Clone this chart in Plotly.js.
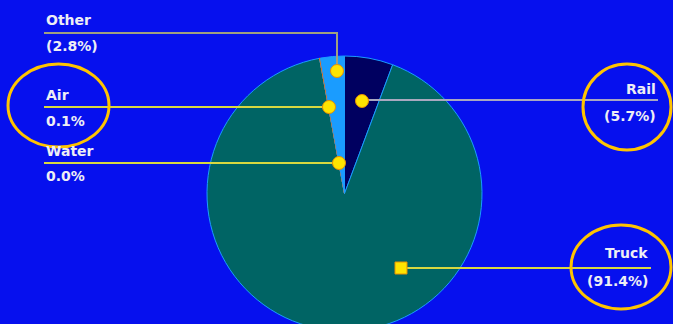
<!DOCTYPE html>
<html>
<head>
<meta charset="utf-8">
<script src="https://cdn.plot.ly/plotly-3.0.1.min.js"></script>
<style>
html,body{margin:0;padding:0;overflow:hidden;background:#0610EE;}
#chart{width:673px;height:338px;}
</style>
</head>
<body>
<div id="chart"></div>
<script>
// Data
const categories = ["Rail", "Truck", "Water", "Air", "Other"];
const shares = [5.7, 91.4, 0.0, 0.1, 2.8];
const labelTexts = ["Rail<br>(5.7%)", "Truck<br>(91.4%)", "Water<br>0.0%", "Air<br>0.1%", "Other<br>(2.8%)"];
const sliceColors = ["#000060", "#006464", "#00C0C0", "#FF6A00", "#1A9CFF"];
const edgeColors = ["#1A9CFF", "#1A9CFF", "#1A9CFF", "#FF6A00", "#1A9CFF"];

const W = 673, H = 338;
const bg = "#0610EE";

// callout layout (pixel positions, y measured from top)
const callouts = {
  Other: {dot: [337, 71], path: [[44, 33], [337, 33], [337, 71]], color: "#A0A080", line1: [44, 20], line2: [44, 46], anchor: "left"},
  Air:   {dot: [329, 107], path: [[44, 107], [329, 107]], color: "#D8D840", line1: [44, 95], line2: [44, 121], anchor: "left"},
  Water: {dot: [339, 163], path: [[44, 163], [339, 163]], color: "#D8D840", line1: [44, 151], line2: [44, 176], anchor: "left"},
  Rail:  {dot: [362, 101], path: [[362, 100], [658, 100]], color: "#A8A8C0", line1: [658, 89], line2: [658, 116], anchor: "right"},
  Truck: {dot: [401, 268], path: [[401, 268], [651, 268]], color: "#D8D840", line1: [650, 253], line2: [650, 281], anchor: "right", square: true}
};

const traces = [];
// pie
const cx = 344.5, cy = 193.5, r = 137.5;
traces.push({
  type: "pie",
  labels: categories,
  values: shares,
  sort: false,
  direction: "clockwise",
  rotation: 0,
  textinfo: "none",
  hoverinfo: "label+percent",
  marker: {colors: sliceColors, line: {color: edgeColors, width: 1}},
  domain: {x: [(cx - r) / W, (cx + r) / W], y: [(H - cy - r) / H, (H - cy + r) / H]},
  showlegend: false
});
// invisible cartesian trace to establish pixel-like axes
traces.push({type: "scatter", mode: "markers", x: [0, W], y: [0, H], marker: {opacity: 0}, hoverinfo: "skip", showlegend: false});

const annotations = [];
const shapes = [];
categories.forEach((c, i) => {
  const co = callouts[c];
  shapes.push({
    type: "path", xref: "x", yref: "y", layer: "above",
    path: co.path.map((p, k) => (k ? "L" : "M") + p[0] + "," + p[1]).join(" "),
    line: {color: co.color, width: 2}
  });
  const rad = co.square ? 6 : 6.5;
  shapes.push({
    type: co.square ? "rect" : "circle", xref: "x", yref: "y", layer: "above",
    x0: co.dot[0] - rad, x1: co.dot[0] + rad, y0: co.dot[1] - rad, y1: co.dot[1] + rad,
    fillcolor: "#FFE400", line: {color: "#E89000", width: 1}
  });
  const parts = labelTexts[i].split("<br>");
  [co.line1, co.line2].forEach((p, k) => {
    annotations.push({
      x: p[0], y: p[1], xref: "x", yref: "y",
      text: parts[k], showarrow: false,
      xanchor: co.anchor, yanchor: "middle",
      font: {family: "DejaVu Sans", size: 14, color: "#EEEEF4", weight: "bold"}
    });
  });
});

const ellipseColor = "#FFC400";
shapes.push(
  {type: "circle", xref: "x", yref: "y", layer: "above", x0: 8, x1: 109, y0: 64, y1: 147, line: {color: ellipseColor, width: 3}},
  {type: "circle", xref: "x", yref: "y", layer: "above", x0: 583, x1: 671, y0: 64, y1: 150, line: {color: ellipseColor, width: 3}},
  {type: "circle", xref: "x", yref: "y", layer: "above", x0: 571, x1: 671, y0: 225, y1: 309, line: {color: ellipseColor, width: 3}}
);

const layout = {
  width: W, height: H,
  margin: {l: 0, r: 0, t: 0, b: 0},
  paper_bgcolor: bg, plot_bgcolor: "rgba(0,0,0,0)",
  xaxis: {range: [0, W], visible: false, fixedrange: true},
  yaxis: {range: [H, 0], visible: false, fixedrange: true},
  showlegend: false,
  annotations: annotations,
  shapes: shapes
};

Plotly.newPlot("chart", traces, layout, {displayModeBar: false, staticPlot: true});
</script>
</body>
</html>
